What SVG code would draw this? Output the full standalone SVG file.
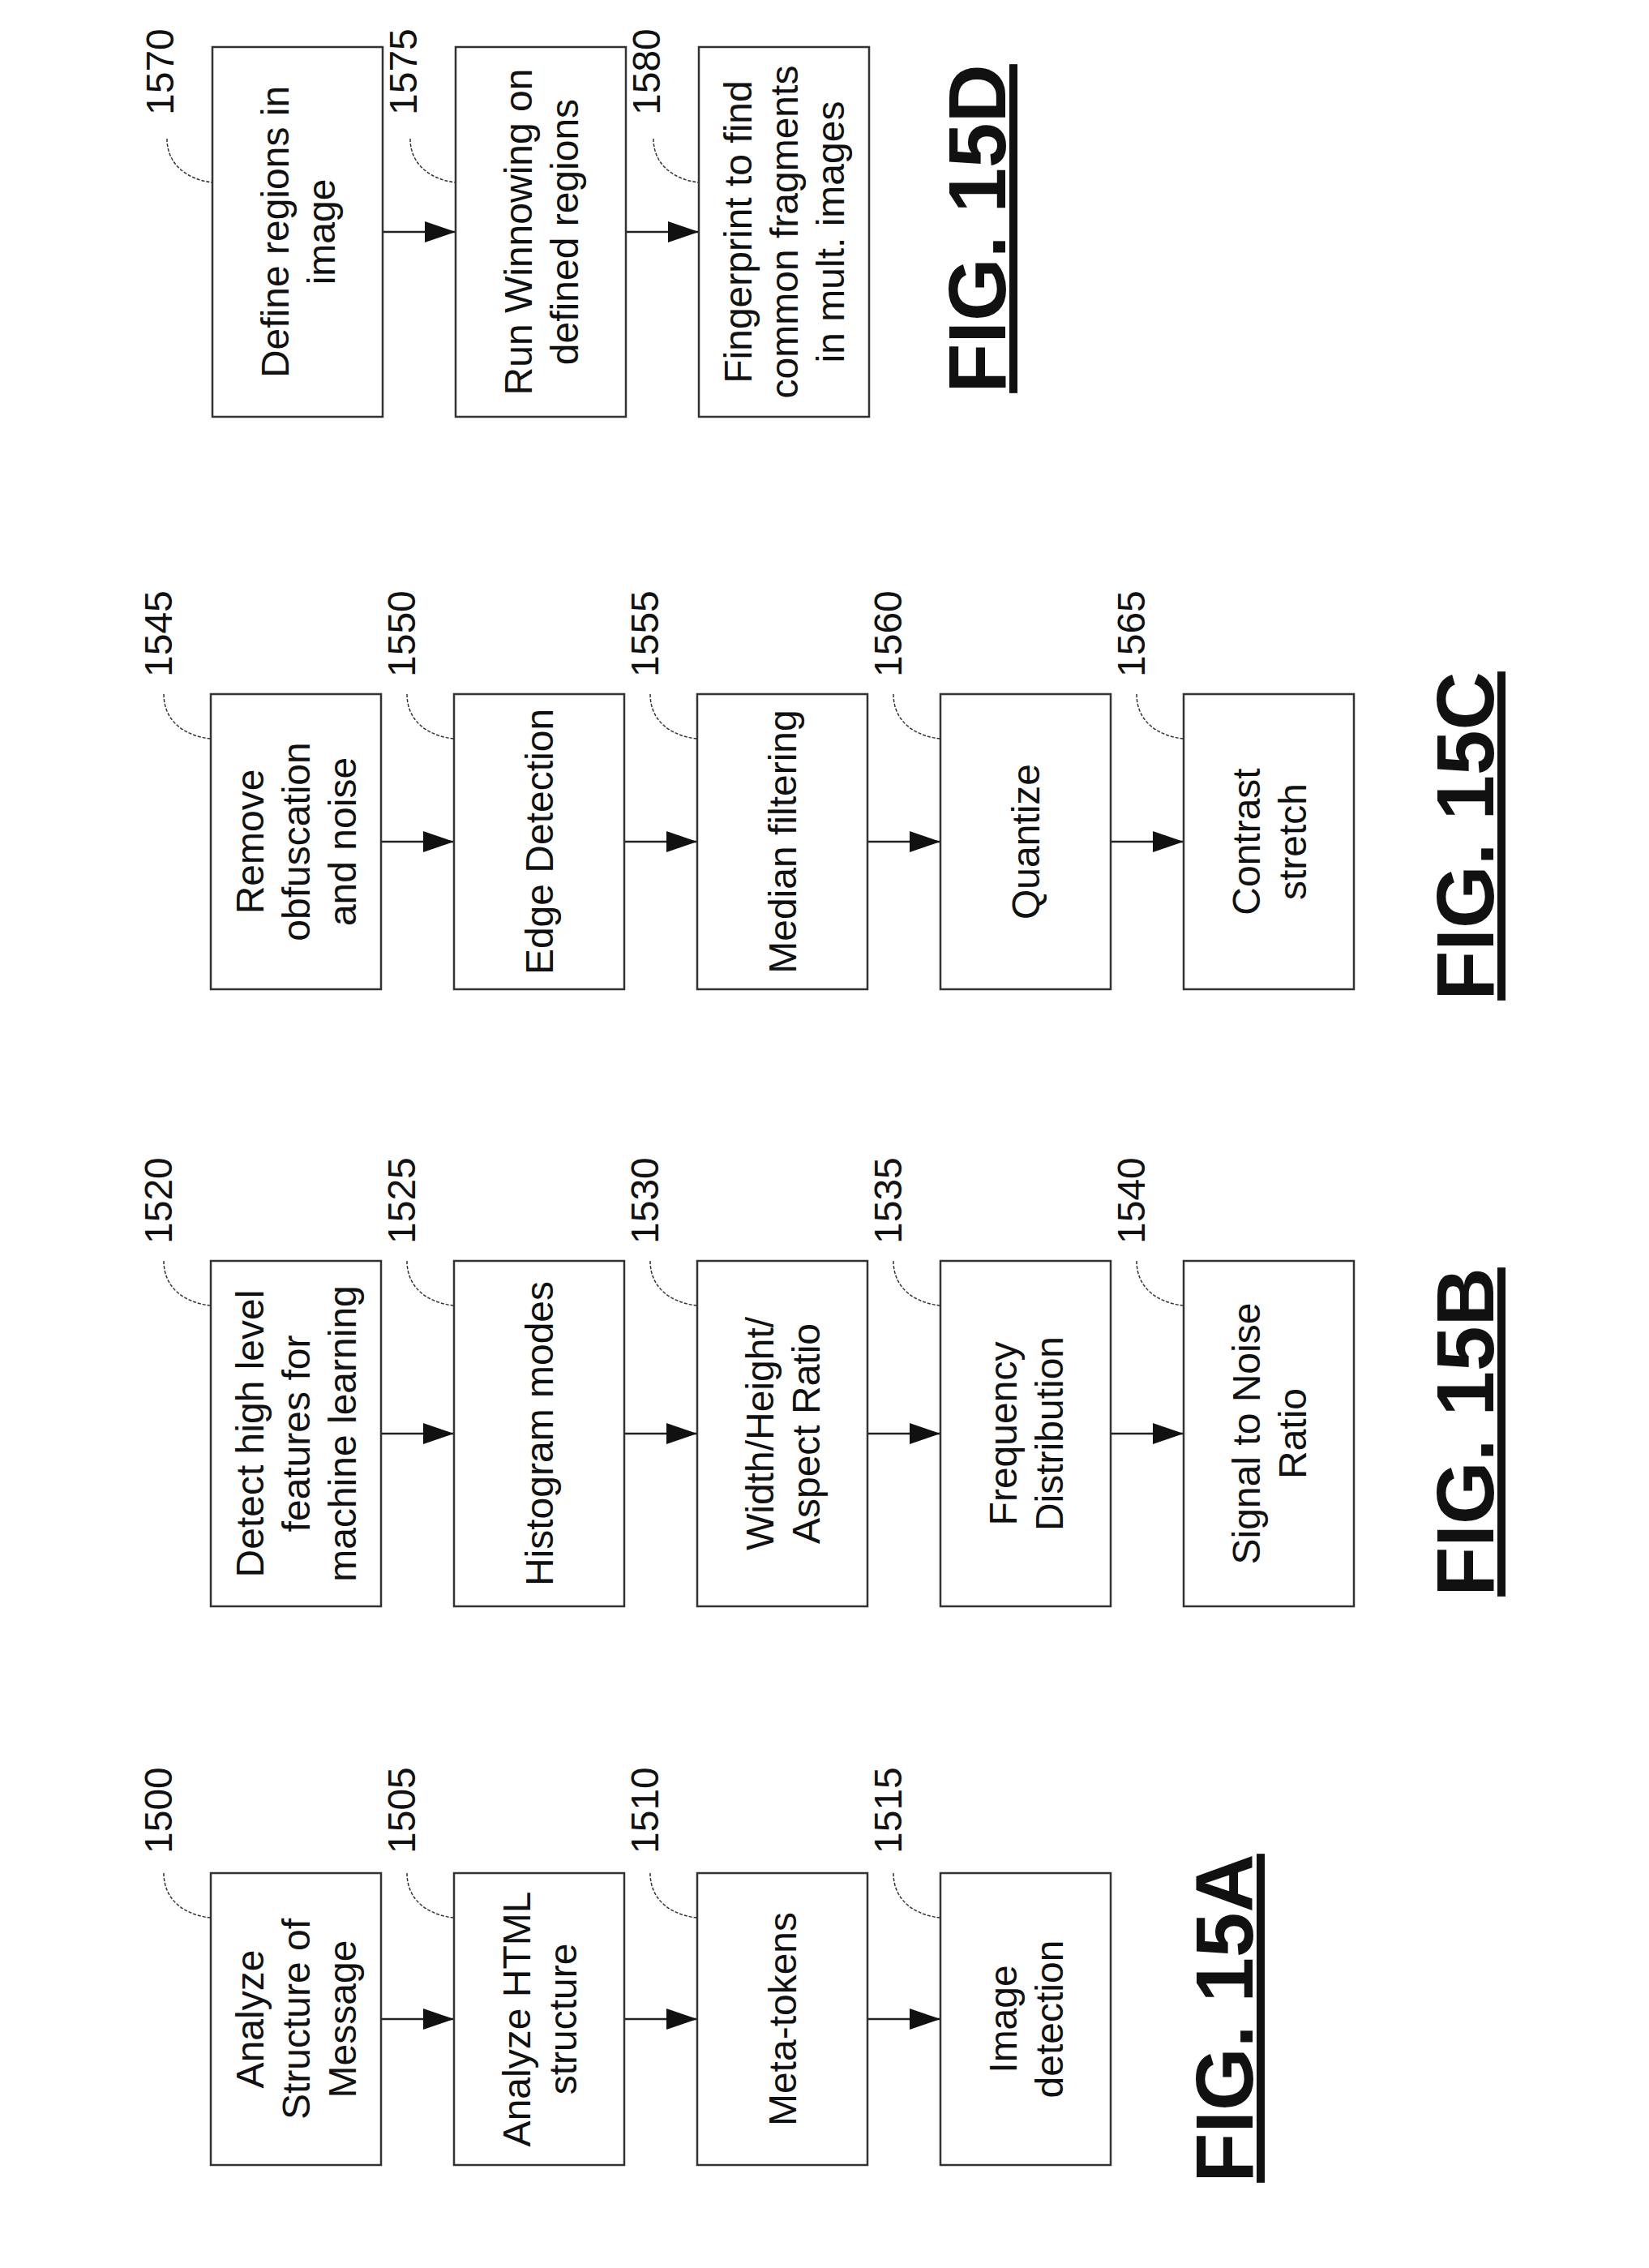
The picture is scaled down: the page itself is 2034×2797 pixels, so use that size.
<svg xmlns="http://www.w3.org/2000/svg" width="2034" height="2797" viewBox="0 0 2034 2797">
<defs>
<marker id="ah" markerUnits="userSpaceOnUse" markerWidth="40" markerHeight="26" refX="38" refY="13" orient="auto"><path d="M0,0 L38,13 L0,26 Z" fill="#111"/></marker>
</defs>
<style>
.b{fill:#fff;stroke:#333;stroke-width:2.5}
.t{font-family:"Liberation Sans",Arial,sans-serif;font-size:48px;fill:#111;text-anchor:middle}
.n{font-family:"Liberation Sans",Arial,sans-serif;font-size:48px;fill:#111}
.l{fill:none;stroke:#333;stroke-width:1.5;stroke-dasharray:4 2}
.c{fill:none;stroke:#222;stroke-width:2.5;marker-end:url(#ah)}
.f{font-family:"Liberation Sans",Arial,sans-serif;font-size:100px;font-weight:bold;fill:#111;text-anchor:middle;text-decoration:underline}
</style>
<rect width="2034" height="2797" fill="#fff"/>
<g id="connectors">
<line class="c" x1="470" y1="2490" x2="560" y2="2490"/><line class="c" x1="770" y1="2490" x2="860" y2="2490"/><line class="c" x1="1070" y1="2490" x2="1160" y2="2490"/>
<line class="c" x1="470" y1="1768" x2="560" y2="1768"/><line class="c" x1="770" y1="1768" x2="860" y2="1768"/><line class="c" x1="1070" y1="1768" x2="1160" y2="1768"/><line class="c" x1="1370" y1="1768" x2="1460" y2="1768"/>
<line class="c" x1="470" y1="1038" x2="560" y2="1038"/><line class="c" x1="770" y1="1038" x2="860" y2="1038"/><line class="c" x1="1070" y1="1038" x2="1160" y2="1038"/><line class="c" x1="1370" y1="1038" x2="1460" y2="1038"/>
<line class="c" x1="472" y1="286" x2="562" y2="286"/><line class="c" x1="772" y1="286" x2="862" y2="286"/>
</g>
<g id="leaders">
<path class="l" d="M202,2310C202,2345 230,2362 260,2365M502,2310C502,2345 530,2362 560,2365M802,2310C802,2345 830,2362 860,2365M1102,2310C1102,2345 1130,2362 1160,2365"/>
<path class="l" d="M202,1555C202,1590 230,1607 260,1610M502,1555C502,1590 530,1607 560,1610M802,1555C802,1590 830,1607 860,1610M1102,1555C1102,1590 1130,1607 1160,1610M1402,1555C1402,1590 1430,1607 1460,1610"/>
<path class="l" d="M202,856C202,891 230,908 260,911M502,856C502,891 530,908 560,911M802,856C802,891 830,908 860,911M1102,856C1102,891 1130,908 1160,911M1402,856C1402,891 1430,908 1460,911"/>
<path class="l" d="M206,171C206,205 234,222 262,225M506,171C506,205 534,222 562,225M806,171C806,205 834,222 862,225"/>
</g>
<g id="labels">
<text class="n" transform="translate(212,2286) rotate(-90)">1500</text>
<text class="n" transform="translate(512,2286) rotate(-90)">1505</text>
<text class="n" transform="translate(812,2286) rotate(-90)">1510</text>
<text class="n" transform="translate(1112,2286) rotate(-90)">1515</text>
<text class="n" transform="translate(212,1534) rotate(-90)">1520</text>
<text class="n" transform="translate(512,1534) rotate(-90)">1525</text>
<text class="n" transform="translate(812,1534) rotate(-90)">1530</text>
<text class="n" transform="translate(1112,1534) rotate(-90)">1535</text>
<text class="n" transform="translate(1412,1534) rotate(-90)">1540</text>
<text class="n" transform="translate(212,835) rotate(-90)">1545</text>
<text class="n" transform="translate(512,835) rotate(-90)">1550</text>
<text class="n" transform="translate(812,835) rotate(-90)">1555</text>
<text class="n" transform="translate(1112,835) rotate(-90)">1560</text>
<text class="n" transform="translate(1412,835) rotate(-90)">1565</text>
<text class="n" transform="translate(214,142) rotate(-90)">1570</text>
<text class="n" transform="translate(514,142) rotate(-90)">1575</text>
<text class="n" transform="translate(814,142) rotate(-90)">1580</text>
</g>
<g id="n1500"><rect class="b" x="260" y="2310" width="210" height="360"/><text class="t" transform="translate(365,2490) rotate(-90)"><tspan x="0" y="-40">Analyze</tspan><tspan x="0" y="17">Structure of</tspan><tspan x="0" y="74">Message</tspan></text></g>
<g id="n1505"><rect class="b" x="560" y="2310" width="210" height="360"/><text class="t" transform="translate(665,2490) rotate(-90)"><tspan x="0" y="-11">Analyze HTML</tspan><tspan x="0" y="46">structure</tspan></text></g>
<g id="n1510"><rect class="b" x="860" y="2310" width="210" height="360"/><text class="t" transform="translate(965,2490) rotate(-90)"><tspan x="0" y="17">Meta-tokens</tspan></text></g>
<g id="n1515"><rect class="b" x="1160" y="2310" width="210" height="360"/><text class="t" transform="translate(1265,2490) rotate(-90)"><tspan x="0" y="-11">Image</tspan><tspan x="0" y="46">detection</tspan></text></g>
<g id="n1520"><rect class="b" x="260" y="1555" width="210" height="426"/><text class="t" transform="translate(365,1768) rotate(-90)"><tspan x="0" y="-40">Detect high level</tspan><tspan x="0" y="17">features for</tspan><tspan x="0" y="74">machine learning</tspan></text></g>
<g id="n1525"><rect class="b" x="560" y="1555" width="210" height="426"/><text class="t" transform="translate(665,1768) rotate(-90)"><tspan x="0" y="17">Histogram modes</tspan></text></g>
<g id="n1530"><rect class="b" x="860" y="1555" width="210" height="426"/><text class="t" transform="translate(965,1768) rotate(-90)"><tspan x="0" y="-11">Width/Height/</tspan><tspan x="0" y="46">Aspect Ratio</tspan></text></g>
<g id="n1535"><rect class="b" x="1160" y="1555" width="210" height="426"/><text class="t" transform="translate(1265,1768) rotate(-90)"><tspan x="0" y="-11">Frequency</tspan><tspan x="0" y="46">Distribution</tspan></text></g>
<g id="n1540"><rect class="b" x="1460" y="1555" width="210" height="426"/><text class="t" transform="translate(1565,1768) rotate(-90)"><tspan x="0" y="-11">Signal to Noise</tspan><tspan x="0" y="46">Ratio</tspan></text></g>
<g id="n1545"><rect class="b" x="260" y="856" width="210" height="364"/><text class="t" transform="translate(365,1038) rotate(-90)"><tspan x="0" y="-40">Remove</tspan><tspan x="0" y="17">obfuscation</tspan><tspan x="0" y="74">and noise</tspan></text></g>
<g id="n1550"><rect class="b" x="560" y="856" width="210" height="364"/><text class="t" transform="translate(665,1038) rotate(-90)"><tspan x="0" y="17">Edge Detection</tspan></text></g>
<g id="n1555"><rect class="b" x="860" y="856" width="210" height="364"/><text class="t" transform="translate(965,1038) rotate(-90)"><tspan x="0" y="17">Median filtering</tspan></text></g>
<g id="n1560"><rect class="b" x="1160" y="856" width="210" height="364"/><text class="t" transform="translate(1265,1038) rotate(-90)"><tspan x="0" y="17">Quantize</tspan></text></g>
<g id="n1565"><rect class="b" x="1460" y="856" width="210" height="364"/><text class="t" transform="translate(1565,1038) rotate(-90)"><tspan x="0" y="-11">Contrast</tspan><tspan x="0" y="46">stretch</tspan></text></g>
<g id="n1570"><rect class="b" x="262" y="58" width="210" height="456"/><text class="t" transform="translate(367,286) rotate(-90)"><tspan x="0" y="-11">Define regions in</tspan><tspan x="0" y="46">image</tspan></text></g>
<g id="n1575"><rect class="b" x="562" y="58" width="210" height="456"/><text class="t" transform="translate(667,286) rotate(-90)"><tspan x="0" y="-11">Run Winnowing on</tspan><tspan x="0" y="46">defined regions</tspan></text></g>
<g id="n1580"><rect class="b" x="862" y="58" width="210" height="456"/><text class="t" transform="translate(967,286) rotate(-90)"><tspan x="0" y="-40">Fingerprint to find</tspan><tspan x="0" y="17">common fragments</tspan><tspan x="0" y="74">in mult. images</tspan></text></g>
<g id="figs">
<text class="f" transform="translate(1545,2489) rotate(-90)">FIG. 15A</text>
<text class="f" transform="translate(1842,1766) rotate(-90)">FIG. 15B</text>
<text class="f" transform="translate(1842,1031) rotate(-90)">FIG. 15C</text>
<text class="f" transform="translate(1240,282) rotate(-90)">FIG. 15D</text>
</g>
</svg>
